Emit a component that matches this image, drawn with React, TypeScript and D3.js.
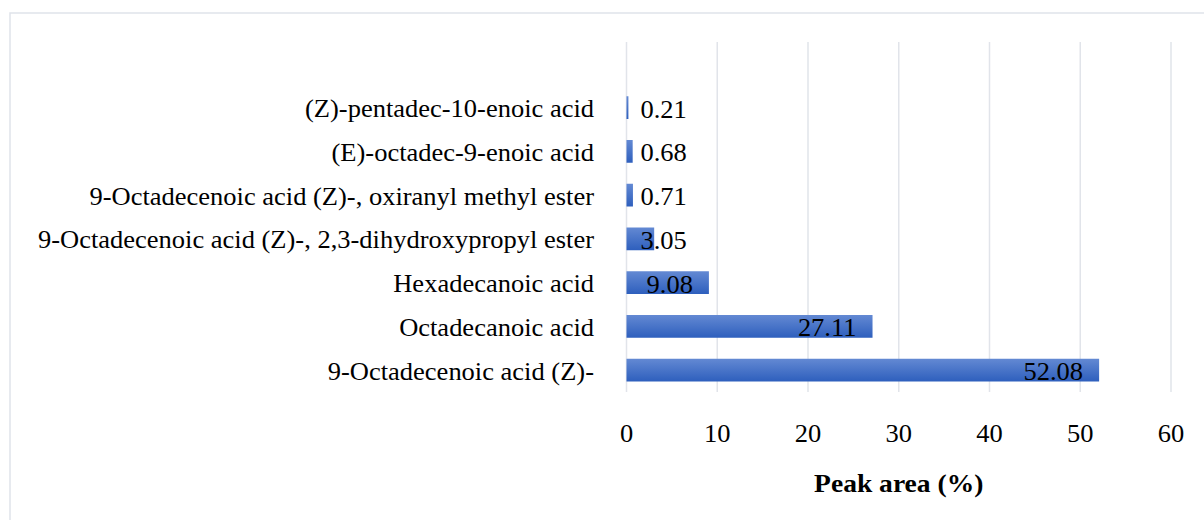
import React, { useEffect, useRef } from 'react';
import * as d3 from 'd3';

// compounds, top to bottom as they appear in the chart
const compounds = [
  '(Z)-pentadec-10-enoic acid',
  '(E)-octadec-9-enoic acid',
  '9-Octadecenoic acid (Z)-, oxiranyl methyl ester',
  '9-Octadecenoic acid (Z)-, 2,3-dihydroxypropyl ester',
  'Hexadecanoic acid',
  'Octadecanoic acid',
  '9-Octadecenoic acid (Z)-',
];
const peakArea = [0.21, 0.68, 0.71, 3.05, 9.08, 27.11, 52.08];
const xTicks = [0, 10, 20, 30, 40, 50, 60];
const xTitle = 'Peak area (%)';

const App = () => {
  const svgRef = useRef<SVGSVGElement>(null);

  useEffect(() => {
    const svg = d3.select(svgRef.current);
    svg.selectAll('*').remove();

    const width = 1204;
    const height = 520;
    const font = '"Liberation Serif", "Times New Roman", serif';
    const stretch = 1.06; // text in the original is slightly wide
    const plot = { left: 626.5, right: 1171, top: 42, bottom: 392 };

    const x = d3.scaleLinear().domain([0, 60]).range([plot.left, plot.right]);
    const y = d3
      .scaleBand()
      .domain(compounds)
      .range([plot.top + (plot.bottom - plot.top) / 8, plot.bottom])
      .paddingInner(0.48)
      .paddingOuter(0.24);

    // gradient for bars
    const grad = svg
      .append('defs')
      .append('linearGradient')
      .attr('id', 'barGrad')
      .attr('x1', 0)
      .attr('y1', 0)
      .attr('x2', 0)
      .attr('y2', 1);
    grad.append('stop').attr('offset', '0%').attr('stop-color', '#6389d3');
    grad.append('stop').attr('offset', '100%').attr('stop-color', '#2e5fbd');

    // chart border
    svg
      .append('rect')
      .attr('x', 10)
      .attr('y', 13)
      .attr('width', 1210)
      .attr('height', 530)
      .attr('fill', '#fff')
      .attr('stroke', '#dfe3ea')
      .attr('stroke-width', 1.5);

    // gridlines
    svg
      .append('g')
      .selectAll('line')
      .data(xTicks)
      .join('line')
      .attr('x1', (d) => x(d))
      .attr('x2', (d) => x(d))
      .attr('y1', plot.top)
      .attr('y2', plot.bottom)
      .attr('stroke', '#e1e4ea')
      .attr('stroke-width', 1.5);

    const textAt = (sel, tx, ty) =>
      sel.attr('transform', `translate(${tx},${ty}) scale(${stretch},1)`);

    // tick labels
    svg
      .append('g')
      .selectAll('text')
      .data(xTicks)
      .join('text')
      .each(function (d) {
        textAt(d3.select(this), x(d), 442);
      })
      .attr('text-anchor', 'middle')
      .attr('font-family', font)
      .attr('font-size', 25)
      .attr('fill', '#000')
      .text((d) => d);

    // axis title
    textAt(svg.append('text'), (plot.left + plot.right) / 2, 492)
      .attr('text-anchor', 'middle')
      .attr('font-family', font)
      .attr('font-size', 26)
      .attr('font-weight', 'bold')
      .attr('fill', '#000')
      .text(xTitle);

    // category labels
    svg
      .append('g')
      .selectAll('text')
      .data(compounds)
      .join('text')
      .each(function (d) {
        textAt(d3.select(this), 594, y(d) + y.bandwidth() / 2 + 9.5);
      })
      .attr('text-anchor', 'end')
      .attr('font-family', font)
      .attr('font-size', 25)
      .attr('fill', '#000')
      .text((d) => d);

    // bars
    svg
      .append('g')
      .selectAll('rect')
      .data(peakArea)
      .join('rect')
      .attr('x', x(0))
      .attr('y', (d, i) => y(compounds[i]))
      .attr('width', (d) => x(d) - x(0))
      .attr('height', y.bandwidth())
      .attr('fill', 'url(#barGrad)');

    // value labels, inside end, pushed right when the bar is too short
    svg
      .append('g')
      .selectAll('text')
      .data(peakArea)
      .join('text')
      .attr('font-family', font)
      .attr('font-size', 25)
      .attr('fill', '#000')
      .text((d) => d.toFixed(2))
      .each(function (d, i) {
        const el = this as SVGTextElement;
        const w = el.getComputedTextLength() * stretch;
        const left = Math.max(x(0) + 14, x(d) - 16 - w);
        textAt(d3.select(el), left, y(compounds[i]) + y.bandwidth() / 2 + 10);
      });
  }, []);

  return (
    <svg
      ref={svgRef}
      width={1204}
      height={520}
      style={{ position: 'absolute', left: 0, top: 0, display: 'block', background: '#fff' }}
    />
  );
};

export default App;
